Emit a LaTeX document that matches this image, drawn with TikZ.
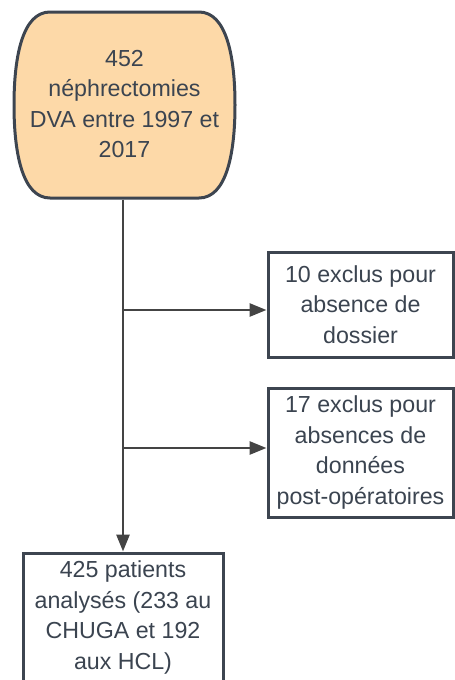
\documentclass[tikz,border=0pt]{standalone}
\usepackage{fontspec}
\setmainfont{Liberation Sans}
\usetikzlibrary{arrows.meta}
\definecolor{edgec}{HTML}{3D4550}
\definecolor{txtc}{HTML}{3B4450}
\definecolor{linec}{HTML}{444444}
\definecolor{orangel}{HTML}{FDD9A8}
\tikzset{
  boxnode/.style={draw=edgec, line width=3pt, fill=white, align=center, text=txtc, inner sep=0pt,
    font=\fontsize{23.2}{30.5}\selectfont},
  conn/.style={draw=linec, line width=2.8pt, -{Triangle[length=17pt,width=13pt]}},
}
\begin{document}
\begin{tikzpicture}[x=1pt,y=-1pt]
\useasboundingbox (0,0) rectangle (455,680);
\clip (0,0) rectangle (455,680);
% top rounded shape
\draw[draw=edgec, line width=3pt, fill=orangel]
  (50,12) -- (199,12) .. controls (226,12) and (235,55) .. (235,105)
  .. controls (235,155) and (226,198) .. (199,198) -- (50,198)
  .. controls (23,198) and (14,155) .. (14,105)
  .. controls (14,55) and (23,12) .. (50,12) -- cycle;
\node[boxnode, draw=none, fill=none] (start) at (124.5,104) {452\\néphrectomies\\DVA entre 1997 et\\2017};
\coordinate (topout) at (123,199.5);
\node[boxnode, minimum width=185pt, minimum height=105pt] (ex1) at (360.5,304.5) {10 exclus pour\\absence de\\dossier};
\node[boxnode, minimum width=185pt, minimum height=129pt] (ex2) at (360.5,452.5) {17 exclus pour\\absences de\\données\\post-opératoires};
\node[boxnode, minimum width=200pt, minimum height=129pt] (final) at (123,617.5) {425 patients\\analysés (233 au\\CHUGA et 192\\aux HCL)};
\coordinate (j1) at (123,310);
\coordinate (j2) at (123,448);
\draw[conn] (topout) -- (final.north);
\draw[conn] (j1) -- (j1 -| ex1.west);
\draw[conn] (j2) -- (j2 -| ex2.west);
\end{tikzpicture}
\end{document}
